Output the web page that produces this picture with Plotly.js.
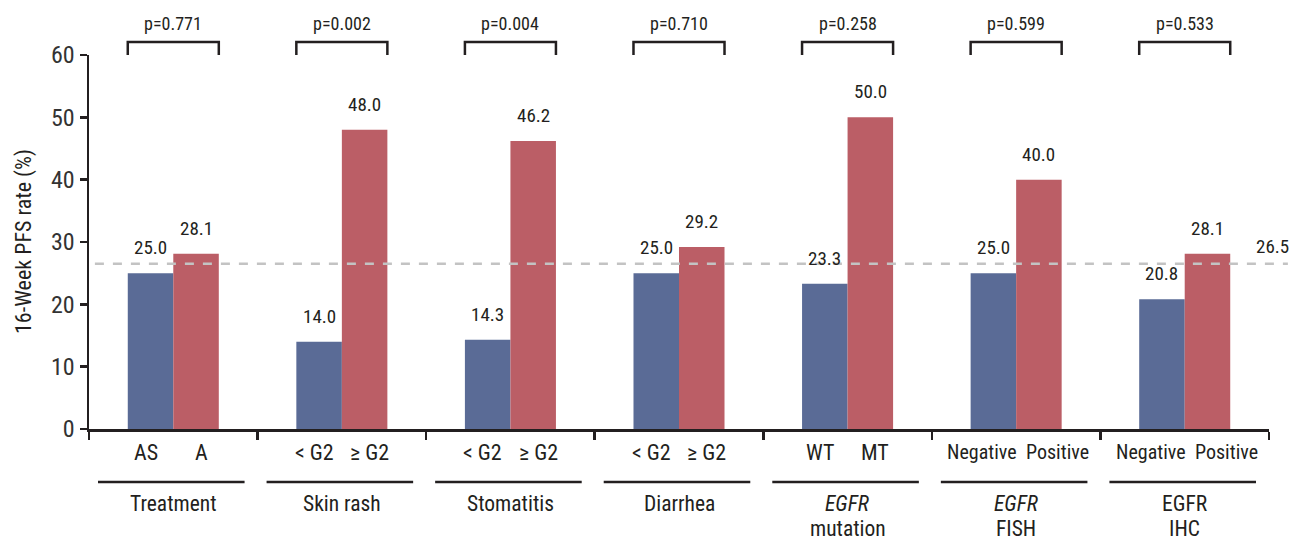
<!DOCTYPE html>
<html>
<head>
<meta charset="utf-8">
<script src="https://cdn.plot.ly/plotly-3.0.1.min.js"></script>
<style>html,body{margin:0;padding:0;background:#fff;}#chart{width:1297px;height:542px;}</style>
</head>
<body>
<div id="chart"></div>
<script>
const groupLine1 = ["Treatment", "Skin rash", "Stomatitis", "Diarrhea", "<i>EGFR</i>", "<i>EGFR</i>", "EGFR"];
const groupLine2 = ["", "", "", "", "mutation", "FISH", "IHC"];
const lowLabels = ["AS", "< G2", "< G2", "< G2", "WT", "Negative", "Negative"];
const highLabels = ["A", "≥ G2", "≥ G2", "≥ G2", "MT", "Positive", "Positive"];
const lowValues = [25.0, 14.0, 14.3, 25.0, 23.3, 25.0, 20.8];
const highValues = [28.1, 48.0, 46.2, 29.2, 50.0, 40.0, 28.1];
const pValues = ["p=0.771", "p=0.002", "p=0.004", "p=0.710", "p=0.258", "p=0.599", "p=0.533"];
const overallRate = 26.5;
const yTicks = [0, 10, 20, 30, 40, 50, 60];
const yTitle = "16-Week PFS rate (%)";

const FONT = "'Liberation Sans Narrow', 'Roboto Condensed', 'Arial Narrow', Roboto, sans-serif";
const TXT = "#231f20";
const BLUE = "#5a6b96";
const RED = "#bb5e66";
const n = groupLine1.length;
const xIdx = groupLine1.map((g, i) => i);
const HALF = 0.135; // half of one bar's width in category units (bargap 0.46)
const PLOT_W = 1180, PLOT_H = 374;

const toPaper = v => (v + 0.5) / n;

const traces = [
  {type: "bar", x: xIdx, y: lowValues, marker: {color: BLUE}, hoverinfo: "y", cliponaxis: false},
  {type: "bar", x: xIdx, y: highValues, marker: {color: RED}, hoverinfo: "y", cliponaxis: false}
];

const annotations = [];
const shapes = [];

xIdx.forEach(i => {
  // value labels
  [[lowValues[i], -HALF], [highValues[i], HALF]].forEach(([v, dx]) => {
    annotations.push({x: i + dx, y: v, xref: "x", yref: "y", text: v.toFixed(1), showarrow: false,
      yanchor: "bottom", yshift: 12, font: {family: FONT, size: 19, color: TXT}});
  });
  // sub labels under bars
  const small = lowLabels[i].length > 4;
  annotations.push({x: i - HALF, y: -0.062, xref: "x", yref: "paper", text: lowLabels[i], showarrow: false,
    yanchor: "middle", xshift: small ? -11 : -5, font: {family: FONT, size: small ? 20 : 22, color: TXT}});
  annotations.push({x: i + HALF, y: -0.062, xref: "x", yref: "paper", text: highLabels[i], showarrow: false,
    yanchor: "middle", xshift: small ? 19 : 5, font: {family: FONT, size: small ? 20 : 22, color: TXT}});
  // group labels (one or two lines)
  annotations.push({x: i, y: -(504 - 429) / PLOT_H, xref: "x", yref: "paper", text: groupLine1[i], showarrow: false,
    yanchor: "middle", font: {family: FONT, size: 21.5, color: TXT}});
  if (groupLine2[i]) {
    annotations.push({x: i, y: -(528 - 429) / PLOT_H, xref: "x", yref: "paper", text: groupLine2[i], showarrow: false,
      yanchor: "middle", font: {family: FONT, size: 21.5, color: TXT}});
  }
  // underline
  shapes.push({type: "line", xref: "paper", yref: "paper",
    x0: toPaper(i - 0.5) + 9 / PLOT_W, x1: toPaper(i + 0.5) - 13 / PLOT_W,
    y0: -0.1417, y1: -0.1417, line: {color: TXT, width: 2.5}});
  // p-value bracket
  const xl = toPaper(i - 2 * HALF), xr = toPaper(i + 2 * HALF);
  shapes.push({type: "path", xref: "paper", yref: "paper",
    path: `M ${xl} 1.0 L ${xl} 1.0348 L ${xr} 1.0348 L ${xr} 1.0`,
    line: {color: TXT, width: 2.5}});
  annotations.push({x: i, y: 1.083, xref: "x", yref: "paper", text: pValues[i], showarrow: false,
    yanchor: "middle", font: {family: FONT, size: 18, color: TXT}});
});

// y-axis title
annotations.push({x: -(89 - 24) / PLOT_W, y: 0.5, xref: "paper", yref: "paper", text: yTitle, showarrow: false,
  textangle: -90, xanchor: "center", yanchor: "middle", font: {family: FONT, size: 22, color: TXT}});

// overall reference line
shapes.push({type: "line", xref: "paper", yref: "y", x0: 0.005, x1: 1.016, y0: overallRate, y1: overallRate,
  line: {color: "#c3c3c3", width: 2.5, dash: "dash"}, layer: "above"});
annotations.push({x: 1.0186, y: overallRate, xref: "paper", yref: "y", text: overallRate.toFixed(1), showarrow: false,
  xanchor: "right", yanchor: "bottom", yshift: 4, font: {family: FONT, size: 19, color: TXT}});

const layout = {
  width: 1297, height: 542,
  margin: {l: 89, r: 28, t: 55, b: 113},
  paper_bgcolor: "#fff", plot_bgcolor: "#fff",
  barmode: "group", bargap: 0.46, bargroupgap: 0,
  showlegend: false,
  font: {family: FONT, color: TXT},
  xaxis: {range: [-0.5, n - 0.5], tickvals: xIdx.map(i => i - 0.5).concat([n - 0.5]), ticktext: xIdx.map(() => "").concat([""]),
    showline: true, linecolor: TXT, linewidth: 2.5, ticks: "outside", ticklen: 8, tickwidth: 2.5, tickcolor: TXT,
    showgrid: false, zeroline: false, fixedrange: true},
  yaxis: {range: [0, 60], tickvals: yTicks, showline: true, linecolor: TXT, linewidth: 2.5,
    ticks: "outside", ticklen: 7, tickwidth: 2.5, tickcolor: TXT, showgrid: false, zeroline: false,
    tickfont: {family: FONT, size: 24, color: "#333333"}},
  annotations: annotations,
  shapes: shapes
};

Plotly.newPlot("chart", traces, layout, {displayModeBar: false, staticPlot: true});
</script>
</body>
</html>
